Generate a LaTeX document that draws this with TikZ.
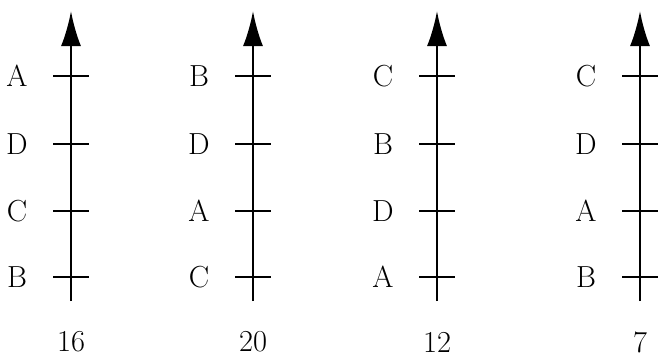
\documentclass[tikz,border=0pt]{standalone}
\usetikzlibrary{arrows.meta}
\begin{document}
\begin{tikzpicture}[x=0.03cm, y=-0.03cm,
    axis/.style={line width=2pt, -{Latex[length=1.05cm, width=0.6cm]}},
    tick/.style={line width=1.5pt},
    lbl/.style={font=\fontsize{26}{30}\selectfont}]
  \useasboundingbox (0,0) rectangle (658,364);

  % one axis per ranking: x / letters from top to bottom / score
  \foreach \x/\a/\b/\c/\d/\s [count=\i] in {71/A/D/C/B/16, 253/B/D/A/C/20, 437/C/B/D/A/12, 640/C/D/A/B/7} {
    \coordinate (bot\i) at (\x,301);
    \coordinate (top\i) at (\x,11);
    \draw[axis] (bot\i) -- (top\i);
    \foreach \y/\l [count=\j] in {76/\a, 144/\b, 211/\c, 277/\d} {
      \coordinate (tl\i\j) at (\x-18,\y);
      \coordinate (tr\i\j) at (\x+18,\y);
      \draw[tick] (tl\i\j) -- (tr\i\j);
      \node[lbl] (l\i\j) at (\x-54,\y) {\l};
    }
    \node[lbl] (s\i) at (\x,342) {\s};
  }
\end{tikzpicture}
\end{document}
